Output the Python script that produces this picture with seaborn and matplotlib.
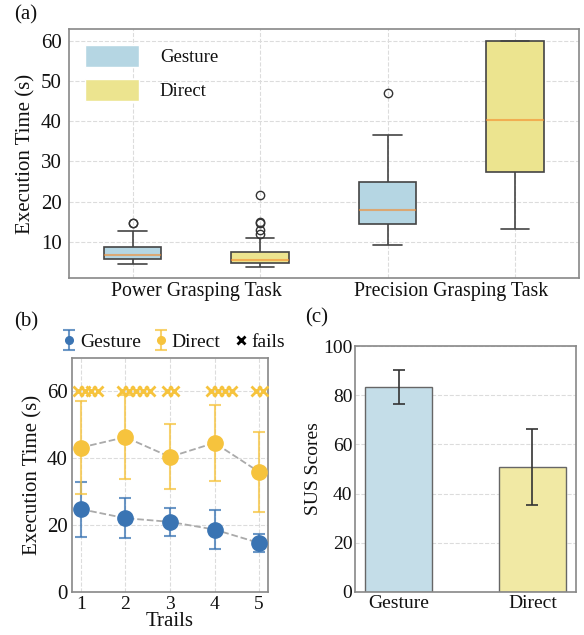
import numpy as np
import pandas as pd
import matplotlib.pyplot as plt
import seaborn as sns
from matplotlib.patches import Patch
from matplotlib.lines import Line2D

# (a) execution time samples per task / method
power_gesture = [4.6, 5.0, 5.4, 5.7, 6.0, 6.4, 6.8, 7.4, 8.0, 8.7, 12.6, 14.6, 14.8]
power_direct = [3.8, 4.0, 4.2, 4.4, 4.5, 4.7, 4.8, 4.9, 5.0, 5.1, 5.2, 5.3, 5.4,
                5.6, 5.9, 6.3, 6.7, 7.0, 7.4, 11.0, 12.0, 13.0, 14.8, 15.0, 21.7]
precision_gesture = [9.1, 12.0, 14.5, 16.0, 18.0, 21.0, 24.9, 36.6, 47.0]
precision_direct = [13.1, 20.0, 27.3, 34.0, 40.3, 52.0, 60.0, 60.0, 60.0]
tasks = ['Power Grasping Task', 'Precision Grasping Task']
methods = ['Gesture', 'Direct']

# (b) execution time per trail
trails = [1, 2, 3, 4, 5]
gesture_mean = [24.7, 22.0, 20.9, 18.6, 14.6]
gesture_err = [8.2, 6.0, 4.1, 5.8, 2.6]
direct_mean = [43.1, 46.2, 40.3, 44.5, 35.8]
direct_err = [13.8, 12.5, 9.7, 11.4, 12.0]
fail_counts = [4, 5, 2, 4, 2]
fail_time = 60

# (c) SUS scores
sus_labels = ['Gesture', 'Direct']
sus_mean = [83.3, 50.7]
sus_err = [6.8, 15.4]

BLUE_LIGHT = '#b5d6e3'
YELLOW_LIGHT = '#ece48f'
BLUE = '#3a74b3'
YELLOW = '#f6c33d'

sns.set_theme(style="whitegrid")
plt.rcParams.update({
    'font.family': ['Liberation Serif', 'DejaVu Serif'],
    'font.size': 14,
    'axes.edgecolor': '#888888',
    'axes.linewidth': 1.2,
    'grid.color': '#dcdcdc',
    'grid.linestyle': '--',
    'grid.linewidth': 0.8,
    'xtick.labelsize': 14,
    'ytick.labelsize': 14,
    'axes.labelsize': 14,
    'text.color': '#111111',
    'axes.labelcolor': '#111111',
    'xtick.color': '#111111',
    'ytick.color': '#111111',
})

fig = plt.figure(figsize=(5.84, 6.35), dpi=100)

# ---- (a) boxplots
ax_a = fig.add_axes([0.118, 0.562, 0.873, 0.392])
groups = [(tasks[0], methods[0], power_gesture), (tasks[0], methods[1], power_direct),
          (tasks[1], methods[0], precision_gesture), (tasks[1], methods[1], precision_direct)]
rows = []
for task, method, vals in groups:
    for v in vals:
        rows.append({'slot': task + '|' + method, 'method': method, 'time': v})
df_a = pd.DataFrame(rows)
sns.boxplot(data=df_a, x='slot', y='time', hue='method', dodge=False, width=0.45,
            palette={'Gesture': BLUE_LIGHT, 'Direct': YELLOW_LIGHT}, saturation=1,
            linecolor='#444444', linewidth=1.2, fliersize=6, legend=False,
            flierprops={'markeredgecolor': '#333333', 'markerfacecolor': 'none'},
            medianprops={'color': '#f58a2a', 'alpha': 0.6, 'linewidth': 1.5},
            ax=ax_a)
ax_a.set_xticks([0.5, 2.5])
ax_a.set_xticklabels(tasks, fontsize=14.3)
ax_a.set_xticks([0, 1, 2, 3], minor=True)
ax_a.grid(axis='x', which='major', visible=False)
ax_a.grid(axis='x', which='minor', visible=True)
ax_a.tick_params(axis='x', which='both', length=0, pad=3)
ax_a.set_xlim(-0.5, 3.5)
ax_a.set_yticks([10, 20, 30, 40, 50, 60])
ax_a.tick_params(axis='y', length=0, pad=5, labelsize=15)
ax_a.set_xlabel('')
ax_a.set_ylabel('Execution Time (s)', fontsize=15, labelpad=4)
ax_a.legend(handles=[Patch(facecolor=BLUE_LIGHT, label='Gesture'),
                     Patch(facecolor=YELLOW_LIGHT, label='Direct')],
            loc='upper left', frameon=False, fontsize=13.5, handlelength=2.9,
            handleheight=1.45, handletextpad=1.1, labelspacing=0.62,
            borderaxespad=0.3, borderpad=0.55)

# ---- (b) execution time over trails
ax_b = fig.add_axes([0.123, 0.068, 0.336, 0.369])
ax_b.plot(trails, gesture_mean, ls='--', color='#aaaaaa', lw=1.3, zorder=2)
ax_b.plot(trails, direct_mean, ls='--', color='#aaaaaa', lw=1.3, zorder=2)
eb_g = ax_b.errorbar(trails, gesture_mean, yerr=gesture_err, fmt='o', color=BLUE,
                     ecolor=BLUE, elinewidth=1.5, capsize=4, capthick=1.5,
                     markersize=11, zorder=3, label='Gesture')
eb_d = ax_b.errorbar(trails, direct_mean, yerr=direct_err, fmt='o', color=YELLOW,
                     ecolor=YELLOW, elinewidth=1.5, capsize=4, capthick=1.5,
                     markersize=11, zorder=3, label='Direct')
for bars in (eb_g[2], eb_d[2]):
    for b in bars:
        b.set_alpha(0.75)
for caps in (eb_g[1], eb_d[1]):
    for c in caps:
        c.set_alpha(0.75)
for t, n in zip(trails, fail_counts):
    xs = t + 0.155 * (np.arange(n) - 0.45)
    ax_b.plot(xs, [fail_time] * n, ls='none', marker='x', color=YELLOW,
              markersize=7, mew=2, zorder=4)
ax_b.set_xlim(0.8, 5.2)
ax_b.set_ylim(0, 70)
ax_b.set_xticks(trails)
ax_b.set_yticks([0, 20, 40, 60])
ax_b.tick_params(length=0, pad=3)
ax_b.tick_params(axis='y', labelsize=15)
ax_b.set_xlabel('Trails', labelpad=-1, fontsize=15)
ax_b.set_ylabel('Execution Time (s)', labelpad=3, fontsize=15)
fail_handle = Line2D([], [], ls='none', marker='x', color='black', markersize=12, mew=2)
ax_b.legend(handles=[eb_g, eb_d, fail_handle], labels=['Gesture', 'Direct', 'fails'],
            loc='lower center', bbox_to_anchor=(0.52, 0.995), ncol=3, frameon=False,
            fontsize=14, handlelength=0.7, handletextpad=0.2, columnspacing=0.7,
            borderaxespad=0, markerscale=0.5)

# ---- (c) SUS scores
ax_c = fig.add_axes([0.608, 0.068, 0.378, 0.387])
sns.barplot(x=sus_labels, y=sus_mean, hue=sus_labels,
            palette=['#c4dde8', '#f1e9a4'], saturation=1, width=0.5,
            edgecolor='#666666', linewidth=1.0, legend=False, ax=ax_c)
ax_c.errorbar(range(len(sus_labels)), sus_mean, yerr=sus_err, fmt='none',
              ecolor='#333333', elinewidth=1.2, capsize=4, capthick=1.2)
ax_c.set_ylim(0, 100)
ax_c.set_yticks([0, 20, 40, 60, 80, 100])
ax_c.grid(axis='x', visible=False)
ax_c.tick_params(length=0, pad=2)
ax_c.set_ylabel('SUS Scores', labelpad=1)

fig.text(0.024, 0.992, '(a)', fontsize=15, va='top', ha='left')
fig.text(0.024, 0.508, '(b)', fontsize=15, va='top', ha='left')
fig.text(0.522, 0.514, '(c)', fontsize=15, va='top', ha='left')

fig.savefig('out.png', dpi=100)
